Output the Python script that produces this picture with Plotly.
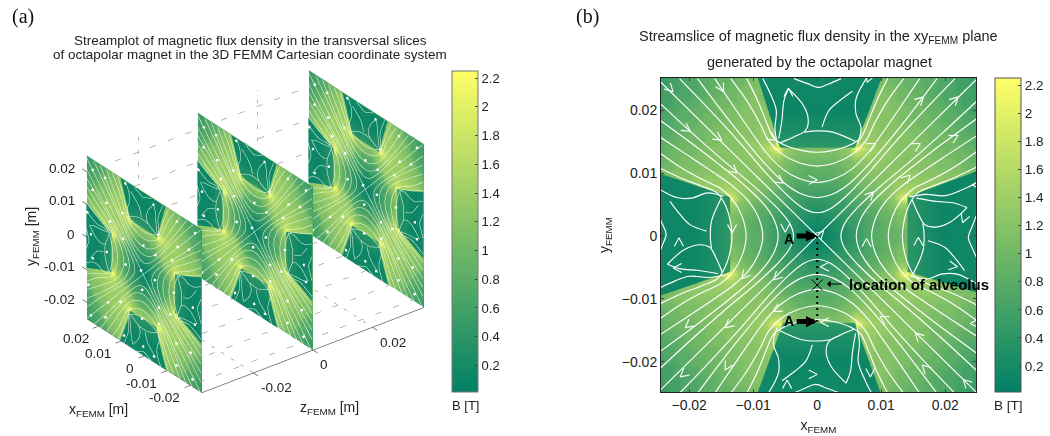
import math
import plotly.graph_objects as go

# |B| on the quadrant x>=0, y>=0 (1 mm grid, tenths of tesla), rows y=0..25 mm, cols x=0..25 mm
B_TENTHS = [
[0,1,2,2,3,4,5,6,7,8,8,9,9,10,6,4,3,2,2,1,1,1,1,1,1,2],
[1,1,2,3,3,4,5,6,7,8,8,9,9,10,6,4,3,2,2,2,1,1,1,1,1,2],
[2,2,2,3,4,5,5,6,7,7,8,9,10,11,6,4,3,3,2,2,2,1,1,1,1,2],
[2,3,3,4,4,5,6,6,7,8,9,9,10,11,7,4,4,3,2,2,2,2,2,2,2,2],
[3,3,4,4,5,5,6,7,8,8,9,10,11,12,8,5,4,3,3,3,3,2,2,2,2,2],
[4,4,5,5,5,6,7,7,8,9,10,11,12,14,11,6,5,4,4,3,3,3,3,3,3,3],
[5,5,5,6,6,7,8,8,9,10,11,12,13,18,22,13,9,6,5,5,4,4,4,4,3,3],
[6,6,6,6,7,7,8,9,10,11,12,12,13,15,16,14,13,12,8,6,5,5,4,4,4,4],
[7,7,7,7,8,8,9,10,11,11,12,12,13,14,14,14,13,13,13,12,8,6,5,5,5,4],
[8,8,8,8,8,9,10,11,11,12,12,12,13,13,13,13,13,13,13,13,12,12,11,7,6,5],
[8,8,8,9,9,10,11,11,12,12,12,12,13,13,13,13,12,12,12,12,12,12,12,11,11,10],
[9,9,9,9,10,11,11,12,12,13,12,12,12,12,12,12,12,12,12,11,11,11,11,10,10,10],
[10,10,10,10,11,11,13,13,13,13,13,12,12,12,12,12,12,12,11,11,11,11,10,10,9,9],
[11,11,11,11,12,13,16,15,14,13,13,13,12,12,12,12,12,11,11,11,10,10,10,10,9,9],
[6,6,6,7,8,11,22,18,15,14,13,13,12,12,12,12,12,11,11,10,10,10,10,9,9,8],
[4,4,4,4,5,6,13,14,14,13,13,13,12,12,12,12,11,11,10,10,10,10,9,9,8,8],
[3,3,3,3,4,5,9,13,13,13,12,12,12,12,12,11,11,11,10,10,10,9,9,8,8,7],
[2,3,3,3,4,4,6,12,13,13,12,12,12,12,11,11,11,10,10,10,9,9,8,8,7,7],
[2,2,2,3,3,4,5,8,13,12,12,12,12,11,11,11,10,10,10,9,9,8,8,7,7,6],
[1,2,2,3,3,3,5,6,12,12,12,12,12,11,11,10,10,10,9,9,8,8,8,7,7,6],
[1,1,2,2,3,3,4,5,8,12,12,12,11,11,11,10,10,9,9,9,8,8,7,7,6,6],
[1,1,1,2,2,3,4,5,6,12,12,12,11,11,10,10,10,9,9,8,8,7,7,6,6,6],
[1,1,1,2,2,3,4,4,5,11,12,11,11,10,10,10,9,9,8,8,7,7,7,6,6,5],
[1,1,1,2,2,3,4,4,5,7,12,11,11,10,10,9,9,8,8,7,7,7,6,6,6,5],
[1,1,1,2,2,3,3,4,5,6,11,11,10,10,9,9,9,8,8,7,7,7,6,6,5,5],
[2,2,2,2,2,3,3,4,4,5,11,10,10,9,9,9,8,8,8,7,7,6,6,6,5,5],
]

# Pole outlines, mm
POLE_TOP = [(-9.4,25.5),(-5.8,14),(5.9,14),(10.2,25.5)]
POLE_RIGHT = [(14.1,6.2),(26,10.7),(26,-9.3),(14.1,-5.7)]
POLE_BOTTOM = [(-5.3,-13.8),(5.9,-13.8),(10.3,-26),(-9.7,-26)]
POLE_LEFT = [(-13.6,6.2),(-26,10.4),(-26,-10),(-13.6,-5.7)]
# B inside a pole from its face inward (position 0..1, tesla)
POLE_PROFILE = [(0,0.42),(0.2,0.28),(0.5,0.12),(1,0.16)]

# Stream lines, in mm: half lines of one family, from the x=0 crossing to the band end
BAND_HALF_LINES = [
    [(0,13.3),(-2.5,13.6),(-5,14.4),(-6.8,15.6),(-7.9,18),(-9.3,21.5),(-11,25)],
    [(0,11.1),(-3,11.7),(-5.5,13),(-7.5,15),(-9,18),(-11,21.5),(-13.5,25)],
    [(0,8.5),(-3,9.2),(-5.5,10.7),(-8,13.3),(-10.5,16.8),(-13,20.5),(-16,25)],
    [(0,6.1),(-2.5,6.7),(-5,8.3),(-8,11.3),(-11.5,15.5),(-15,20),(-18.7,25)],
    [(0,3.7),(-2,4.3),(-4.5,6.3),(-8,10),(-12,14.7),(-16.5,19.7),(-21.5,25)],
]
SEPARATRIX = [(-25,25),(-18,18),(-12,12),(-6,6),(0,0),(6,-6),(12,-12),(18,-18),(25,-25)]
POLE_LINES = [
    [(-6.2,14.4),(-6.6,17),(-6.4,20),(-7.5,23),(-8.5,25)],
    [(-5.8,14.8),(-3.5,15.8),(-1.8,16.8),(-1.4,18.5),(-2.2,20.8),(-4.5,23.4)],
    [(-4.5,23.4),(-5.2,21.5),(-5.5,18.5),(-6,15.5)],
    [(-3.6,25),(-1.5,24.2),(0.3,23.6),(1.9,24.2),(3.7,25)],
    [(-2,16.5),(0,16.7),(2.4,16.5),(6,15)],
    [(6.3,14.6),(6.85,17.2),(6.06,19.4),(6.06,21.8),(7.65,25)],
    [(0.77,17.3),(1.8,19.9),(3.5,21.5),(5.5,23)],
]
# Arrow heads on panel (b): x mm, y mm, heading in degrees clockwise from up
ARROWS = [
(-22.5,22.9,135),(-14.6,22.9,150),(-19.8,16.6,125),(-14.9,15.2,125),(-12.5,10,130),(-13.3,0.5,180),
(-5.3,8.4,125),(0,8.9,90),(-6.5,15.2,125),(-4.5,23.5,0),(16.6,22.1,45),(22,22.1,45),(9.1,14.7,60),
(16.1,14.7,60),(22,16,60),(14.5,9.7,45),(8.8,7,45),(7.8,24.4,200),(24.2,8.1,-90),(22.7,2.1,200),
(7.7,-0.4,0),(15.8,-0.2,0),(1,0.8,45),(-11.8,-6.8,-140),(-6.8,-7,-135),(-20.6,-14.6,-130),
(-14.4,-14.6,-130),(-6.9,-12,-120),(-14.4,-21.3,-150),(-21.4,-22.4,-130),(-22.5,-5.1,-90),
(-21.6,-0.3,0),(-4.7,-22.9,0),(0,-22,90),(0.5,-4.9,-90),(0.5,-13.7,-90),(9.8,-12.8,-60),
(15.3,-15.4,-45),(16.4,-20.5,-45),(22.8,-22.8,-45),(23.9,-13.9,-90),(21.9,-4.9,100),(8.3,-22.4,180),
(-5,0.6,180),
]
CB_TICKS = [0.2,0.4,0.6,0.8,1,1.2,1.4,1.6,1.8,2,2.2]
XY_TICKS = [-0.02,-0.01,0,0.01,0.02]
Z_TICKS = [-0.02,0,0.02]
SLICE_Z = [-0.0373,0.0,0.0373]
B_MIN, B_MAX = 0.015, 2.25
SUMMER = [[0,'rgb(0,128,102)'],[1,'rgb(255,255,102)']]
W,H = 1050,436
TXT = '#222222'
FONT = 'Liberation Sans, Arial, sans-serif'

def px(x): return x/W
def py(y): return 1-y/H
def summer(v):
    t=(v-B_MIN)/(B_MAX-B_MIN)
    return f'rgb({255*t:.0f},{128+127*t:.0f},102)'

grid_mm = list(range(-25,26))
grid_m = [g/1000 for g in grid_mm]

# band field carried under the poles, so that the pole polygons give sharp edges
def under(i,j):
    if j>=14:
        e=6+(j-14)*4/11
        if i<e:
            return B_TENTHS[j][math.ceil(e)] if e-i<j-13 else B_TENTHS[13][i]
    if i>=14:
        e=6+(i-14)*4/11
        if j<e:
            return B_TENTHS[math.ceil(e)][i] if e-j<i-13 else B_TENTHS[j][13]
    return B_TENTHS[j][i]
Z_BASE = [[under(abs(i),abs(j))/10 for i in grid_mm] for j in grid_mm]
# panel (a) renders its bands a little brighter than panel (b)
Z_SLICE = [[min(v*1.15,2.25) if v>=0.9 else v for v in row] for row in Z_BASE]

# full set of stream lines from the half lines and the four-fold magnet symmetry
lines = []
for h in BAND_HALF_LINES:
    full = [p for p in reversed(h)] + [(-x,y) for x,y in h[1:]]
    lines.append(full)
    lines.append([(x,-y) for x,y in full])
    lines.append([(-y,x) for x,y in full])
    lines.append([(y,x) for x,y in full])
lines.append(SEPARATRIX)
lines.append([(-x,y) for x,y in SEPARATRIX])
for pl in POLE_LINES:
    lines.append(pl)
    lines.append([(y,-x) for x,y in pl])
    lines.append([(-x,-y) for x,y in pl])
    lines.append([(-y,x) for x,y in pl])

def flatten(ls):
    xs,ys=[],[]
    for l in ls:
        xs += [p[0]/1000 for p in l]+[None]
        ys += [p[1]/1000 for p in l]+[None]
    return xs,ys

def smooth(l,n=5):
    out=[]
    for k in range(len(l)-1):
        p0=l[max(k-1,0)];p1=l[k];p2=l[k+1];p3=l[min(k+2,len(l)-1)]
        for s in range(n):
            t=s/n
            out.append(tuple(0.5*((2*p1[a])+(-p0[a]+p2[a])*t+(2*p0[a]-5*p1[a]+4*p2[a]-p3[a])*t*t+(-p0[a]+3*p1[a]-3*p2[a]+p3[a])*t**3) for a in (0,1)))
    out.append(l[-1])
    return out

def clamp(v): return max(-25,min(25,v))
POLE_SIDES = [
    (POLE_TOP[1],POLE_TOP[0],POLE_TOP[2],POLE_TOP[3]),
    (POLE_RIGHT[0],POLE_RIGHT[1],POLE_RIGHT[3],POLE_RIGHT[2]),
    (POLE_BOTTOM[0],POLE_BOTTOM[3],POLE_BOTTOM[1],POLE_BOTTOM[2]),
    (POLE_LEFT[0],POLE_LEFT[1],POLE_LEFT[3],POLE_LEFT[2]),
]

fig = go.Figure()
FLAT = dict(ambient=1,diffuse=0,specular=0,roughness=1,fresnel=0)

# --- panel (a): 3D slices
for k,z0 in enumerate(SLICE_Z):
    fig.add_trace(go.Surface(
        x=grid_m,y=grid_m,z=[[z0]*len(grid_m) for _ in grid_m],surfacecolor=Z_SLICE,
        cmin=B_MIN,cmax=B_MAX,colorscale=SUMMER,scene='scene',lighting=FLAT,
        hoverinfo='skip',contours=dict(x=dict(highlight=False),y=dict(highlight=False),z=dict(highlight=False)),
        showscale=(k==0),
        colorbar=dict(x=452/W,xanchor='left',xpad=0,ypad=0,y=py(231.5),yanchor='middle',thickness=26,lenmode='pixels',len=321,
                      tickvals=CB_TICKS,ticktext=[str(t) for t in CB_TICKS],ticks='inside',ticklen=3,tickcolor='#444',
                      outlinecolor='#777',outlinewidth=1,tickfont=dict(size=13,color=TXT,family=FONT)),
    ))
    for F1,T1,F2,T2 in POLE_SIDES:
        vx,vy,vi,ii,jj,kk=[],[],[],[],[],[]
        for n,(p,v) in enumerate(POLE_PROFILE):
            for F,T in ((F1,T1),(F2,T2)):
                vx.append(clamp(F[0]+p*(T[0]-F[0]))/1000); vy.append(clamp(F[1]+p*(T[1]-F[1]))/1000); vi.append(v)
            if n:
                a=2*n-2
                ii+=[a,a+1]; jj+=[a+1,a+3]; kk+=[a+2,a+2]
        fig.add_trace(go.Mesh3d(x=vx,y=vy,z=[z0-0.0002]*len(vx),i=ii,j=jj,k=kk,intensity=vi,cmin=B_MIN,cmax=B_MAX,colorscale=SUMMER,
                                showscale=False,lighting=FLAT,hoverinfo='skip',scene='scene'))
    xs,ys,zs=[],[],[]
    for l in lines:
        ll=smooth(l)
        xs+=[p[0]/1000 for p in ll]+[None]
        ys+=[p[1]/1000 for p in ll]+[None]
        zs+=[z0-0.0004]*len(ll)+[None]
    fig.add_trace(go.Scatter3d(x=xs,y=ys,z=zs,mode='lines',line=dict(color='rgb(240,250,235)',width=1),
                               scene='scene',hoverinfo='skip',showlegend=False))
    fig.add_trace(go.Scatter3d(x=[a[0]/1000 for a in ARROWS],y=[a[1]/1000 for a in ARROWS],z=[z0-0.0004]*len(ARROWS),
                               mode='markers',marker=dict(size=1.6,color='white'),scene='scene',hoverinfo='skip',showlegend=False))

# dotted grid on wall and floor, axis lines and ticks
gx,gy,gz=[],[],[]
ZLO,ZHI=SLICE_Z[0],SLICE_Z[-1]
for v in XY_TICKS:
    gx+=[0.025,0.025,None,v,v,None]; gy+=[v,v,None,-0.025,-0.025,None]; gz+=[ZLO,ZHI,None,ZLO,ZHI,None]
for v in Z_TICKS:
    gx+=[0.025,0.025,None,0.025,-0.025,None]; gy+=[-0.025,0.025,None,-0.025,-0.025,None]; gz+=[v,v,None,v,v,None]
fig.add_trace(go.Scatter3d(x=gx,y=gy,z=gz,mode='lines',line=dict(color='#777777',width=1,dash='dot'),scene='scene',hoverinfo='skip',showlegend=False))
ax=[0.025,-0.025,-0.025];ay=[-0.025,-0.025,-0.025];az=[ZLO,ZLO,ZHI]
for v in XY_TICKS:
    ax+=[None,0.025,0.027,None,v,v]; ay+=[None,v,v,None,-0.025,-0.025]; az+=[None,ZLO,ZLO,None,ZLO,ZLO-0.002]
for v in Z_TICKS:
    ax+=[None,-0.025,-0.027]; ay+=[None,-0.025,-0.025]; az+=[None,v,v]
fig.add_trace(go.Scatter3d(x=ax,y=ay,z=az,mode='lines',line=dict(color='#666666',width=1.5),scene='scene',hoverinfo='skip',showlegend=False))

# --- panel (b)
fig.add_trace(go.Heatmap(x=grid_m,y=grid_m,z=Z_BASE,zmin=B_MIN,zmax=B_MAX,colorscale=SUMMER,zsmooth='best',hoverinfo='skip',xaxis='x',yaxis='y',
    colorbar=dict(x=995/W,xanchor='left',xpad=0,ypad=0,y=py(235),yanchor='middle',thickness=26,lenmode='pixels',len=314,
                  tickvals=CB_TICKS,ticktext=[str(t) for t in CB_TICKS],ticks='inside',ticklen=3,tickcolor='#444',
                  outlinecolor='#555',outlinewidth=1,tickfont=dict(size=13.5,color=TXT,family=FONT))))
grad=[[p,summer(v)] for p,v in POLE_PROFILE]
for poly,kind,a,b in [(POLE_TOP,'vertical',0.014,0.0255),(POLE_BOTTOM,'vertical',-0.0138,-0.0255),
                      (POLE_RIGHT,'horizontal',0.0141,0.0255),(POLE_LEFT,'horizontal',-0.0136,-0.0255)]:
    fig.add_trace(go.Scatter(x=[p[0]/1000 for p in poly]+[poly[0][0]/1000],y=[p[1]/1000 for p in poly]+[poly[0][1]/1000],
        mode='lines',line=dict(width=0),fill='toself',fillgradient=dict(type=kind,colorscale=grad,start=a,stop=b),hoverinfo='skip',showlegend=False))
lx,ly=flatten(lines)
fig.add_trace(go.Scatter(x=lx,y=ly,mode='lines',line=dict(color='white',width=1.15,shape='spline',smoothing=1),hoverinfo='skip',showlegend=False))
cx,cy=[],[]
for x,y,h in ARROWS:
    for s in (-28,28):
        r=math.radians(h+180+s)
        cx+=[x/1000,(x+1.5*math.sin(r))/1000,None]
        cy+=[y/1000,(y+1.5*math.cos(r))/1000,None]
fig.add_trace(go.Scatter(x=cx,y=cy,mode='lines',line=dict(color='white',width=1.1),hoverinfo='skip',showlegend=False))
fig.add_trace(go.Scatter(x=[0,0],y=[0,-0.0136],mode='lines',line=dict(color='black',width=2,dash='2px,4px'),hoverinfo='skip',showlegend=False))
fig.add_trace(go.Scatter(x=[0],y=[-0.0078],mode='markers',marker=dict(symbol='x-thin-open',size=11,color='black',line=dict(color='black',width=1)),hoverinfo='skip',showlegend=False))

def ann(x,y,text,size=12.5,angle=0,color=TXT,family=FONT,anchor='center',weight=None):
    f=dict(size=size,color=color,family=family)
    if weight: f['weight']=weight
    return dict(x=px(x),y=py(y),xref='paper',yref='paper',text=text,showarrow=False,xanchor=anchor,yanchor='middle',font=f,textangle=angle)

annots=[
 ann(23,16,'(a)',20,family='Liberation Serif, serif',color='#111'),
 ann(587,16,'(b)',20,family='Liberation Serif, serif',color='#111'),
 ann(250,40,'Streamplot of magnetic flux density in the transversal slices',13.45),
 ann(250,55,'of octapolar magnet in the 3D FEMM Cartesian coordinate system',13.45),
 ann(818,37,'Streamslice of magnetic flux density in the xy<sub>FEMM</sub> plane',14.5),
 ann(819,62,'generated by the octapolar magnet',14.5),
 ann(77,168,'0.02',13.5,anchor='right'),ann(77,200,'0.01',13.5,anchor='right'),ann(77,234,'0',13.5,anchor='right'),
 ann(77,266,'-0.01',13.5,anchor='right'),ann(77,299,'-0.02',13.5,anchor='right'),
 ann(76,338,'0.02',13.5),ann(98,353,'0.01',13.5),ann(130,368,'0',13.5),ann(141,383,'-0.01',13.5),ann(164,397,'-0.02',13.5),
 ann(276,387,'-0.02',13.5),ann(324,364,'0',13.5),ann(393,342,'0.02',13.5),
 ann(98,410,'x<sub>FEMM</sub> [m]',14),ann(329,408,'z<sub>FEMM</sub> [m]',14),
 ann(32,237,'y<sub>FEMM</sub> [m]',14,angle=-90),
 ann(465,405,'B [T]',13),ann(1008,405,'B [T]',13.5),
 ann(847,284,'location of alveolus',15,color='black',anchor='left',weight='bold'),
 ann(789,239,'<b>A</b>',14,color='black'),ann(789,321,'<b>A</b>',14,color='black'),
 dict(x=0,y=0,xref='x',yref='y',ax=-22,ay=0,axref='pixel',ayref='pixel',text='',showarrow=True,arrowhead=2,arrowwidth=5,arrowsize=0.45,arrowcolor='black'),
 dict(x=0,y=-0.0136,xref='x',yref='y',ax=-22,ay=0,axref='pixel',ayref='pixel',text='',showarrow=True,arrowhead=2,arrowwidth=5,arrowsize=0.45,arrowcolor='black'),
 dict(x=px(827),y=py(284),xref='paper',yref='paper',ax=16,ay=0,text='',showarrow=True,arrowhead=1,arrowwidth=1,arrowsize=1.2,arrowcolor='black'),
]

axis3=dict(visible=False,showgrid=False,zeroline=False,showticklabels=False,showspikes=False)
C=(-0.687,0.497,-0.531)
D=1.5
A=0.927
fig.update_layout(
    width=W,height=H,margin=dict(l=0,r=0,t=0,b=0),paper_bgcolor='white',plot_bgcolor='white',showlegend=False,
    font=dict(family=FONT,color=TXT),annotations=annots,
    xaxis=dict(domain=[661/W,976/W],range=[-0.0244,0.0248],tickvals=XY_TICKS,ticktext=['\u22120.02','\u22120.01','0','0.01','0.02'],
               ticks='inside',ticklen=3,mirror='ticks',showline=True,linecolor='#222',linewidth=1,showgrid=False,zeroline=False,
               tickfont=dict(size=14,color=TXT),title=dict(text='x<sub>FEMM</sub>',font=dict(size=14,color=TXT),standoff=8)),
    yaxis=dict(domain=[py(392),py(78)],range=[-0.0248,0.0251],tickvals=XY_TICKS,ticktext=['\u22120.02','\u22120.01','0','0.01','0.02'],
               ticks='inside',ticklen=3,mirror='ticks',showline=True,linecolor='#222',linewidth=1,showgrid=False,zeroline=False,
               tickfont=dict(size=14,color=TXT),title=dict(text='y<sub>FEMM</sub>',font=dict(size=14,color=TXT),standoff=8)),
    scene=dict(domain=dict(x=[0,511/W],y=[0,py(27)]),aspectmode='manual',aspectratio=dict(x=1.151*A,y=1.151*A,z=1.667*A),
               xaxis=dict(axis3,range=[-0.029,0.029]),yaxis=dict(axis3,range=[-0.029,0.029]),zaxis=dict(axis3,range=[-0.042,0.042]),
               camera=dict(projection=dict(type='orthographic'),up=dict(x=0,y=1,z=0),center=dict(x=0,y=0,z=0),
                           eye=dict(x=C[0]*D,y=C[1]*D,z=C[2]*D)),
               bgcolor='white'),
)
fig.write_html('out.html',config={'displayModeBar':False},post_script="document.body.style.margin='0';document.body.style.overflow='hidden';")
